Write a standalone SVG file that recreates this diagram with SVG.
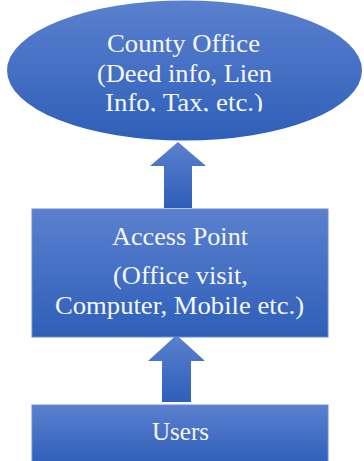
<svg xmlns="http://www.w3.org/2000/svg" width="364" height="461" viewBox="0 0 364 461">
<defs>
<linearGradient id="g" x1="0" y1="0" x2="0" y2="1">
<stop offset="0" stop-color="#5b80cf"/>
<stop offset="1" stop-color="#2e5fb8"/>
</linearGradient>
<clipPath id="clipTop"><rect x="0" y="0" width="364" height="111.5"/></clipPath>
</defs>
<style>
.shape{fill:url(#g);}
.box{fill:url(#g);stroke:#6a8bd3;stroke-width:1;}
.t{font-family:"Liberation Serif","Times New Roman",serif;font-size:26px;fill:#f5f7fc;text-anchor:middle;}
</style>
<rect width="364" height="461" fill="#ffffff"/>
<g id="county-office">
<ellipse class="shape" cx="184.5" cy="70.5" rx="177.5" ry="70"/>
<g clip-path="url(#clipTop)">
<text class="t" x="183.5" y="52" textLength="153" lengthAdjust="spacingAndGlyphs">County Office</text>
<text class="t" x="184.5" y="82" textLength="175" lengthAdjust="spacingAndGlyphs">(Deed info, Lien</text>
<text class="t" x="184" y="110.5" textLength="158" lengthAdjust="spacingAndGlyphs">Info, Tax, etc.)</text>
</g>
</g>
<g id="connectors">
<polygon class="shape" points="178,142 206,166 192,166 192,208 164,208 164,166 150,166"/>
<polygon class="shape" points="176.5,335 205,361 191,361 191,402 162,402 162,361 148,361"/>
</g>
<g id="access-point">
<rect class="box" x="32" y="209" width="296" height="128"/>
<text class="t" x="180" y="245" textLength="136" lengthAdjust="spacingAndGlyphs">Access Point</text>
<text class="t" x="180.5" y="284" textLength="135" lengthAdjust="spacingAndGlyphs">(Office visit,</text>
<text class="t" x="179.5" y="314" textLength="249" lengthAdjust="spacingAndGlyphs">Computer, Mobile etc.)</text>
</g>
<g id="users">
<rect class="box" x="32" y="405" width="296" height="60"/>
<text class="t" x="180.5" y="440" textLength="57" lengthAdjust="spacingAndGlyphs">Users</text>
</g>
</svg>
